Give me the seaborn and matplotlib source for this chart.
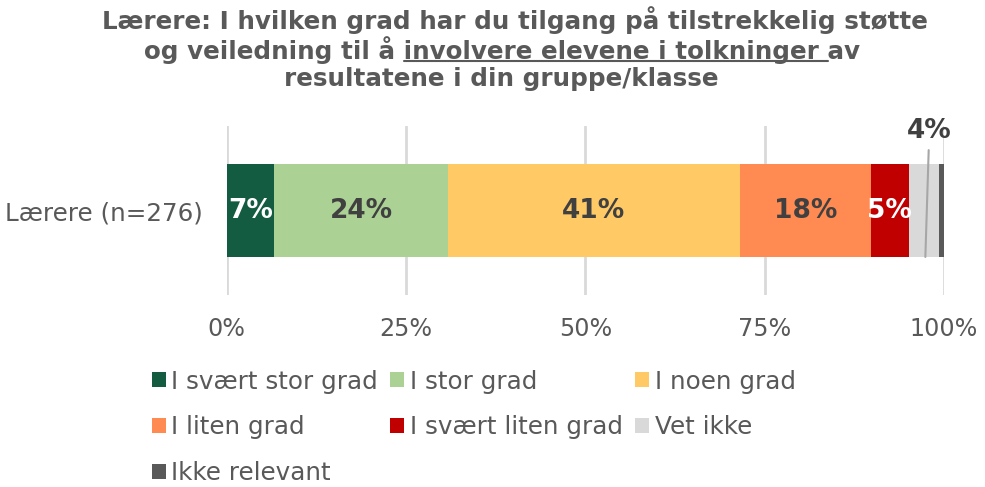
import numpy as np
import pandas as pd
import seaborn as sns
import matplotlib.pyplot as plt
from matplotlib.patches import Patch
from matplotlib.lines import Line2D
from matplotlib.transforms import IdentityTransform

# data
group = "Lærere (n=276)"
categories = ["I svært stor grad", "I stor grad", "I noen grad", "I liten grad",
              "I svært liten grad", "Vet ikke", "Ikke relevant"]
values = [6.6, 24.3, 40.6, 18.3, 5.3, 4.2, 0.7]
value_labels = ["7%", "24%", "41%", "18%", "5%", "4%", ""]
colors = ["#135C41", "#ABD194", "#FFCA66", "#FF8A52", "#C00000", "#D9D9D9", "#595959"]
label_colors = ["white", "#404040", "#404040", "#404040", "white", "#404040", None]
ticks = [0, 25, 50, 75, 100]
tick_labels = ["0%", "25%", "50%", "75%", "100%"]
title_lines = ["Lærere: I hvilken grad har du tilgang på tilstrekkelig støtte",
               "og veiledning til å involvere elevene i tolkninger av",
               "resultatene i din gruppe/klasse"]
underline_prefix = "og veiledning til å "
underline_part = "involvere elevene i tolkninger "

GREY = "#595959"
TITLE_FS = 17.7

sns.set_theme(style="white")
plt.rcParams['font.family'] = ['DejaVu Sans']

W, H = 985, 487
fig = plt.figure(figsize=(W / 100, H / 100), dpi=100)
ax = fig.add_axes([226.7 / W, 1 - 295 / H, 717.3 / W, 169 / H])

cum = np.cumsum(values)
df = pd.DataFrame({"group": [group] * len(values), "cat": categories, "cum": cum})

# stacked bar: draw cumulative totals from the longest down
for i in reversed(range(len(values))):
    sns.barplot(data=df.iloc[[i]], x="cum", y="group", color=colors[i], orient="h",
                width=0.55, saturation=1, errorbar=None, linewidth=0, edgecolor="none", ax=ax)

ax.set_xlim(0, 100)
ax.set_ylim(0.5, -0.5)
ax.set_axisbelow(True)
ax.xaxis.grid(True, color="#D9D9D9", linewidth=2)
ax.yaxis.grid(False)
for s in ax.spines.values():
    s.set_visible(False)
ax.set_xticks(ticks)
ax.set_xticklabels(tick_labels)
ax.set_xlabel("")
ax.set_ylabel("")
ax.tick_params(axis="x", length=0, pad=16, labelsize=17.2, labelcolor=GREY)
ax.tick_params(axis="y", length=0, pad=17, labelsize=17.7, labelcolor=GREY)

# value labels
for i, lab in enumerate(value_labels):
    if not lab or i == 5:
        continue
    xc = cum[i] - values[i] / 2
    ax.text(xc, 0, lab, ha="center", va="center", fontsize=19, fontweight="bold",
            color=label_colors[i])

# "Vet ikke" label above the bar with leader line
ax.annotate(value_labels[5], xy=(97.4, 0.275), xytext=(97.95, -0.47),
            ha="center", va="center", fontsize=19, fontweight="bold", color="#404040",
            arrowprops=dict(arrowstyle="-", color="#A6A6A6", lw=1.5, shrinkA=2, shrinkB=0),
            annotation_clip=False)

# title, three centred lines
title_kw = dict(fontsize=TITLE_FS, fontweight="bold", color=GREY, ha="center", va="center")
ys = [20, 50, 79]
xs = [515, 502, 501]
texts = []
for line, xp, yp in zip(title_lines, xs, ys):
    texts.append(fig.text(xp / W, 1 - yp / H, line, **title_kw))

# underline part of line two
fig.canvas.draw()
r = fig.canvas.get_renderer()


def width_of(s):
    t = fig.text(0, 0, s + "|", fontsize=TITLE_FS, fontweight="bold")
    t2 = fig.text(0, 0, "|", fontsize=TITLE_FS, fontweight="bold")
    w = t.get_window_extent(r).width - t2.get_window_extent(r).width
    t.remove()
    t2.remove()
    return w


bb = texts[1].get_window_extent(r)
x0 = bb.x0 + width_of(underline_prefix)
x1 = bb.x0 + width_of(underline_prefix + underline_part)
uy = bb.y0 + 3
fig.add_artist(Line2D([x0, x1], [uy, uy], color=GREY, lw=1.5, transform=IdentityTransform()))

# legend, filled row by row like the original
order = [0, 3, 6, 1, 4, 2, 5]
handles = [Patch(facecolor=colors[i], edgecolor="none") for i in order]
labels = [categories[i] for i in order]
fig.legend(handles, labels, loc="upper left", bbox_to_anchor=(152 / W, 1 - 369.5 / H),
           ncol=3, frameon=False, fontsize=17.7, handlelength=0.57, handleheight=0.57,
           handletextpad=0.22, columnspacing=0.5, labelspacing=0.88, borderpad=0,
           borderaxespad=0, labelcolor=GREY)

fig.savefig("out.png", dpi=100)
